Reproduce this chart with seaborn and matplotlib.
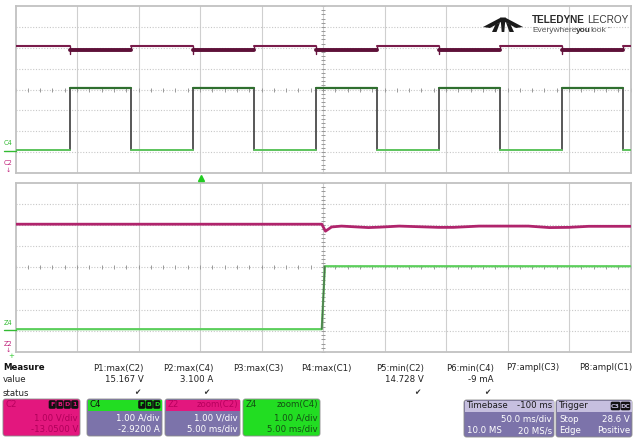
import matplotlib
matplotlib.use("agg")
import numpy as np
import pandas as pd
import matplotlib.pyplot as plt
import seaborn as sns
from matplotlib.patches import FancyBboxPatch, Rectangle, Polygon

W, H = 634, 438

# --- acquisition window (C2 / C4), 50 ms/div, t=0 at trigger ---
top_span_ms = (-150, 350)
c4_rise_ms = [-106, -6, 94, 194, 294]
c4_fall_ms = [-56, 44, 144, 244, 344]
c4_low_a, c4_high_a = 0.0, 3.0
c2_idle_v, c2_load_v, c2_spike_v = 15.15, 14.92, 14.73

# --- zoom window (Z2 / Z4), 5 ms/div ---
zoom_span_ms = (-25, 25)
z2_t_ms = [-25, -0.1, 0.2, 0.7, 1.5, 3.7, 4.6, 6.2, 9.4, 10.6, 12.7, 16.7, 18.4, 20.0, 21.6, 25]
z2_v = [15.10, 15.10, 14.77, 14.97, 15.01, 14.94, 14.96, 15.01, 14.95, 14.95, 15.01, 15.01, 14.94, 14.95, 15.00, 15.00]
z4_t_ms = [-25, -0.1, 0.15, 25]
z4_a = [0.0, 0.0, 2.98, 2.98]

# vertical settings (offset, per div)
c2_offset_v, c2_vdiv = -13.05, 1.0
c4_offset_a, c4_adiv = -2.92, 1.0

# measurement table
measure_names = ["P1:max(C2)", "P2:max(C4)", "P3:max(C3)", "P4:max(C1)",
                 "P5:min(C2)", "P6:min(C4)", "P7:ampl(C3)", "P8:ampl(C1)"]
measure_values = ["15.167 V", "3.100 A", "", "", "14.728 V", "-9 mA", "", ""]
measure_ok = [True, True, False, False, True, True, False, False]
measure_right_px = [144, 213, 283, 352, 424, 494, 559, 632]

MAG_BOX = "#e3177e"
GRN_BOX = "#22dd22"
PURPLE = "#7c73aa"
LAVENDER = "#c6bfdf"


def c2_div(v):
    return (np.asarray(v) + c2_offset_v) / c2_vdiv


def c4_div(a):
    return (np.asarray(a) + c4_offset_a) / c4_adiv


def step_frame(rises, falls, t0, t1):
    # segments: 'lo' flats, 'hi' flats, 'edge' verticals (state 0/1)
    rows = []
    seg = 0
    prev = t0
    for r, f in zip(rises, falls):
        rows += [(prev, 0, seg, "lo"), (r, 0, seg, "lo")]
        seg += 1
        rows += [(r, 0, seg, "edge"), (r, 1, seg, "edge")]
        seg += 1
        rows += [(r, 1, seg, "hi"), (f, 1, seg, "hi")]
        seg += 1
        rows += [(f, 1, seg, "edge"), (f, 0, seg, "edge")]
        seg += 1
        prev = f
    rows += [(prev, 0, seg, "lo"), (t1, 0, seg, "lo")]
    return pd.DataFrame(rows, columns=["t", "state", "seg", "kind"])


def scope_grid(ax, span):
    ax.set_xlim(*span)
    ax.set_ylim(-4, 4)
    x0, x1 = span
    dx = (x1 - x0) / 10
    for i in range(1, 10):
        ax.axvline(x0 + i * dx, color="#cfcfcf", lw=0.8, zorder=0)
    for j in range(-3, 4):
        ax.axhline(j, color="#c8c8c8", lw=0.8, ls=(0, (1, 1.5)), zorder=0)
    xc = np.arange(x0, x1 + 1e-9, dx / 5)
    ax.plot(xc, np.zeros_like(xc), ls="none", marker="|", ms=3, color="#999999", mew=0.7, zorder=1)
    ax.plot(x0 + 5 * dx * np.ones(41), np.linspace(-4, 4, 41), ls="none", marker="_", ms=3,
            color="#999999", mew=0.7, zorder=1)
    ax.set_xticks([])
    ax.set_yticks([])
    for s in ax.spines.values():
        s.set_color("#c2c2c2")
        s.set_linewidth(1.3)


sns.set_style("white")
fig = plt.figure(figsize=(W / 100, H / 100), dpi=100)
fig.patch.set_facecolor("white")

ax_top = fig.add_axes([15.5 / W, 1 - 173 / H, 615 / W, 167 / H])
ax_bot = fig.add_axes([15.5 / W, 1 - 352 / H, 615 / W, 169 / H])
scope_grid(ax_top, top_span_ms)
scope_grid(ax_bot, zoom_span_ms)

# --- top window traces ---
steps = step_frame(c4_rise_ms, c4_fall_ms, *top_span_ms)
steps["c4"] = c4_div(np.where(steps["state"] == 1, c4_high_a, c4_low_a))
steps["c2"] = c2_div(np.where(steps["state"] == 1, c2_load_v, c2_idle_v))
# small dip at the start of each load pulse
rise_edges = steps[(steps["kind"] == "edge") & steps["t"].isin(c4_rise_ms) & (steps["state"] == 1)].index
steps.loc[rise_edges, "c2"] = c2_div(c2_spike_v)

for kind, col, lw in [("edge", "#3b3b3b", 1.2), ("lo", "#5cc35c", 1.4), ("hi", "#2f6f2f", 1.6)]:
    sns.lineplot(data=steps[steps["kind"] == kind], x="t", y="c4", units="seg", estimator=None,
                 sort=False, color=col, lw=lw, ax=ax_top, legend=False, zorder=3)
for kind, col, lw in [("edge", "#6a1440", 1.0), ("lo", "#7a1c4b", 1.5), ("hi", "#5e1038", 2.8)]:
    sns.lineplot(data=steps[steps["kind"] == kind], x="t", y="c2", units="seg", estimator=None,
                 sort=False, color=col, lw=lw, ax=ax_top, legend=False, zorder=3)

# --- zoom window traces ---
sns.lineplot(x=z2_t_ms, y=c2_div(z2_v), sort=False, estimator=None, color="#b0246c", lw=2.0,
             ax=ax_bot, zorder=3)
sns.lineplot(x=z4_t_ms, y=c4_div(z4_a), sort=False, estimator=None, color="#5ccf5c", lw=1.6,
             ax=ax_bot, zorder=3)
sns.lineplot(x=z4_t_ms[1:3], y=c4_div(z4_a[1:3]), sort=False, estimator=None, color="#4f6f4f",
             lw=1.0, ax=ax_bot, zorder=4)
for ax in (ax_top, ax_bot):
    ax.set_xlabel("")
    ax.set_ylabel("")

# --- overlay in pixel coordinates ---
ov = fig.add_axes([0, 0, 1, 1])
ov.set_xlim(0, W)
ov.set_ylim(H, 0)
ov.axis("off")
ov.patch.set_alpha(0)

# channel level markers on the left
ov.text(8, 143, "C4", fontsize=4.8, color="#33bb33", ha="center", va="center")
ov.plot([4, 16], [150.5, 150.5], color="#33bb33", lw=1.0)
ov.text(8, 163, "C2", fontsize=4.8, color="#c0207a", ha="center", va="center")
ov.text(8, 170, "\u2193", fontsize=4.5, color="#c0207a", ha="center", va="center")
ov.text(8, 323, "Z4", fontsize=4.8, color="#33bb33", ha="center", va="center")
ov.plot([4, 16], [330, 330], color="#33bb33", lw=1.0)
ov.text(8, 344, "Z2", fontsize=4.8, color="#c0207a", ha="center", va="center")
ov.text(8, 350, "\u2193", fontsize=4.5, color="#c0207a", ha="center", va="center")
ov.text(11, 356, "+", fontsize=5, color="#33cc33", ha="center", va="center")
# trigger position marker
ov.plot([200.5], [177.5], marker="^", ms=4, color="#22cc22", mec="#22cc22")

# logo
cx = 503
wing = [(483, 27), (501, 17.5), (501, 22), (490, 28)]
leg = [(495.5, 24.5), (500, 22.5), (496.5, 32), (492, 32)]
for shape in (wing, leg):
    ov.add_patch(Polygon(shape, closed=True, color="#1a1a1a", lw=0))
    ov.add_patch(Polygon([(2 * cx - x, y) for x, y in shape], closed=True, color="#1a1a1a", lw=0))
ov.add_patch(Polygon([(500.5, 17.5), (505.5, 17.5), (504.3, 32), (501.7, 32)], closed=True,
                     color="#1a1a1a", lw=0))
fig.canvas.draw()
rend = fig.canvas.get_renderer()
t1 = ov.text(532, 20, "TELEDYNE", fontsize=7.2, fontweight="bold", color="#2a2a2a", va="center",
             family="Liberation Sans")
x_next = t1.get_window_extent(rend).x1 + 2.5
ov.text(x_next, 20, "LECROY", fontsize=7.2, color="#3a3a3a", va="center", family="Liberation Sans")
x_next = 532
for s, w, c in [("Everywhere", "normal", "#555555"), ("you", "bold", "#333333"), ("look", "normal", "#555555")]:
    t = ov.text(x_next, 31, s, fontsize=6.0, fontweight=w, color=c, va="center",
                family="Liberation Sans")
    x_next = t.get_window_extent(rend).x1 - 0.3
ov.text(x_next + 0.5, 29, "\u2122", fontsize=3, color="#555555", va="center")

# measurement table
fs = 6.2
ov.text(3, 368, "Measure", fontsize=fs, fontweight="bold", color="#111111", va="center")
ov.text(3, 380, "value", fontsize=fs, color="#222222", va="center")
ov.text(3, 393, "status", fontsize=fs, color="#222222", va="center")
for name, val, ok, xr in zip(measure_names, measure_values, measure_ok, measure_right_px):
    ov.text(xr, 368, name, fontsize=fs, color="#222222", ha="right", va="center")
    if val:
        ov.text(xr, 380, val, fontsize=fs, color="#222222", ha="right", va="center")
    if ok:
        ov.text(xr - 7, 393, "\u2714", fontsize=5.5, color="#333333", ha="center", va="center")


def box(x0, x1, y0, y1, face):
    ov.add_patch(FancyBboxPatch((x0 + 1.5, y0 + 1.5), x1 - x0 - 3, y1 - y0 - 3,
                                boxstyle="round,pad=1.5,rounding_size=2.5", fc=face, ec="#8a8a8a",
                                lw=0.6))


def header(x0, x1, y0, y1, face):
    ov.add_patch(Rectangle((x0 + 0.5, y0 + 0.5), x1 - x0 - 1, y1 - y0, fc=face, ec="none"))


def badges(x_right, y, letters, txt_color):
    x = x_right
    for ch in reversed(letters):
        w = 5 + 2.5 * len(ch)
        ov.add_patch(FancyBboxPatch((x - w, y - 4), w - 1, 8, boxstyle="round,pad=0.3,rounding_size=1.5",
                                    fc="#111111", ec="none"))
        ov.text(x - w / 2 - 0.5, y, ch, fontsize=4.5, fontweight="bold", color=txt_color,
                ha="center", va="center")
        x -= w


by0, by1, hy = 399, 436, 410
# C2
box(3, 80, by0, by1, MAG_BOX)
ov.text(6, 404.5, "C2", fontsize=fs, color="#b8005e", va="center")
badges(79, 404.5, ["F", "B", "D", "1"], MAG_BOX)
ov.text(78, 418, "1.00 V/div", fontsize=fs, color="#b0005a", ha="right", va="center")
ov.text(78, 429, "-13.0500 V", fontsize=fs, color="#b0005a", ha="right", va="center")
# C4
box(87, 162, by0, by1, PURPLE)
header(87, 162, by0, hy, GRN_BOX)
ov.text(90, 404.5, "C4", fontsize=fs, color="#111111", va="center")
badges(161, 404.5, ["F", "B", "D"], GRN_BOX)
ov.text(160, 418, "1.00 A/div", fontsize=fs, color="white", ha="right", va="center")
ov.text(160, 429, "-2.9200 A", fontsize=fs, color="white", ha="right", va="center")
# Z2
box(165, 240, by0, by1, PURPLE)
header(165, 240, by0, hy, MAG_BOX)
ov.text(168, 404.5, "Z2", fontsize=fs, color="#b8005e", va="center")
ov.text(238, 404.5, "zoom(C2)", fontsize=fs, color="#b8005e", ha="right", va="center")
ov.text(238, 418, "1.00 V/div", fontsize=fs, color="white", ha="right", va="center")
ov.text(238, 429, "5.00 ms/div", fontsize=fs, color="white", ha="right", va="center")
# Z4
box(243, 320, by0, by1, GRN_BOX)
ov.text(246, 404.5, "Z4", fontsize=fs, color="#145014", va="center")
ov.text(318, 404.5, "zoom(C4)", fontsize=fs, color="#145014", ha="right", va="center")
ov.text(318, 418, "1.00 A/div", fontsize=fs, color="#145014", ha="right", va="center")
ov.text(318, 429, "5.00 ms/div", fontsize=fs, color="#145014", ha="right", va="center")
# Timebase
box(464, 554, 400, 437, PURPLE)
header(464, 554, 400, 411.5, LAVENDER)
ov.text(467, 406, "Timebase", fontsize=fs, color="#1a1a1a", va="center")
ov.text(552, 406, "-100 ms", fontsize=fs, color="#1a1a1a", ha="right", va="center")
ov.text(552, 419.5, "50.0 ms/div", fontsize=fs, color="white", ha="right", va="center")
ov.text(467, 430.5, "10.0 MS", fontsize=fs, color="white", va="center")
ov.text(552, 430.5, "20 MS/s", fontsize=fs, color="white", ha="right", va="center")
# Trigger
box(556, 632, 400, 437, PURPLE)
header(556, 632, 400, 411.5, LAVENDER)
ov.text(559, 406, "Trigger", fontsize=fs, color="#1a1a1a", va="center")
badges(631, 406, ["C3", "DC"], LAVENDER)
ov.text(559, 419.5, "Stop", fontsize=fs, color="white", va="center")
ov.text(630, 419.5, "28.6 V", fontsize=fs, color="white", ha="right", va="center")
ov.text(559, 430.5, "Edge", fontsize=fs, color="white", va="center")
ov.text(630, 430.5, "Positive", fontsize=fs, color="white", ha="right", va="center")

fig.savefig("out.png", dpi=100)
